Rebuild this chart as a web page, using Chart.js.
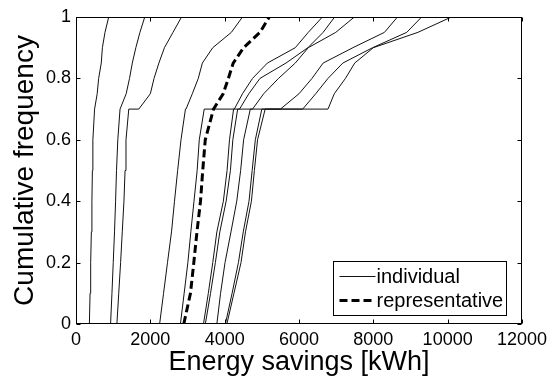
<!DOCTYPE html>
<html>
<head>
<meta charset="utf-8">
<script src="https://cdn.jsdelivr.net/npm/chart.js@4.4.1/dist/chart.umd.min.js"></script>
<style>
  body { margin: 0; background: #fff; }
  #wrap { width: 552px; height: 379px; }
</style>
</head>
<body>
<div id="wrap"><canvas id="cdfChart"></canvas></div>
<script>
// cumulative frequency levels shared by all curves
// (0.7 appears twice: where a curve reaches the 0.7 plateau and where it leaves it)
const levels = [0, 0.1, 0.2, 0.3, 0.4, 0.5, 0.6, 0.7, 0.7, 0.75, 0.8, 0.85, 0.9, 0.95, 1];

// energy savings [kWh] of each individual curve at those levels
const curve1 = [360, 378, 395, 413, 428, 441, 454, 500, 500, 570, 610, 680, 710, 780, 880];
const curve2 = [930, 967, 1002, 1036, 1065, 1090, 1125, 1185, 1190, 1350, 1440, 1515, 1610, 1720, 1850];
const curve3 = [1100, 1150, 1200, 1245, 1290, 1320, 1345, 1420, 1690, 2000, 2100, 2230, 2380, 2610, 2840];
const curve4 = [2250, 2356, 2462, 2570, 2650, 2735, 2825, 2945, 2960, 3130, 3290, 3400, 3680, 4180, 4480];
const curveA = [2810, 2910, 3010, 3090, 3175, 3260, 3317, 3450, 6780, 6950, 7250, 7500, 8000, 9200, 10100];
const curveB = [3430, 3560, 3680, 3790, 3965, 4065, 4130, 4240, 4260, 4480, 4750, 5150, 5900, 6250, 6630];
const curveB2 = [3480, 3620, 3750, 3870, 4040, 4155, 4220, 4350, 4400, 4650, 4950, 5650, 6240, 6650, 6960];
const curveC = [3790, 3890, 4010, 4170, 4325, 4430, 4510, 4690, 4750, 5050, 5450, 5900, 6250, 6990, 7490];
const curveD = [4020, 4200, 4370, 4500, 4655, 4740, 4825, 5000, 5500, 6000, 6350, 6650, 7450, 8300, 8650];
const curveD2 = [4060, 4250, 4440, 4560, 4720, 4800, 4885, 5090, 6100, 6450, 6780, 7180, 7980, 8900, 9300];
const individualCurves = [curve1, curve2, curve3, curve4, curveA, curveB, curveB2, curveC, curveD, curveD2];

// representative curve
const representative = [2900, 3080, 3170, 3255, 3350, 3410, 3478, 3700, 3700, 3960, 4100, 4230, 4510, 4950, 5200];

const xTicks = [0, 2000, 4000, 6000, 8000, 10000, 12000];
const yTicks = [0, 0.2, 0.4, 0.6, 0.8, 1];
const legendLabels = ['individual', 'representative'];

const FONT = 'Arial, "Liberation Sans", sans-serif';

function toPoints(xs) {
    return xs.map((x, i) => ({ x: x, y: levels[i] }));
}

const datasets = [{
    label: legendLabels[1],
    data: toPoints(representative),
    borderColor: '#000',
    borderWidth: 3,
    borderDash: [8, 4],
    pointRadius: 0,
    fill: false
}];
individualCurves.forEach(xs => {
    datasets.push({
        label: legendLabels[0],
        data: toPoints(xs),
        borderColor: '#111',
        borderWidth: 1,
        pointRadius: 0,
        fill: false
    });
});

// box, inward ticks on all four sides, and the legend inside the plot
const framePlugin = {
    id: 'frame',
    afterDatasetsDraw(chart) {
        const ctx = chart.ctx;
        const a = chart.chartArea;
        const xs = chart.scales.x, ys = chart.scales.y;
        const L = Math.round(a.left) + 0.5, R = Math.round(a.right) - 0.5;
        const T = Math.round(a.top) + 0.5, B = Math.round(a.bottom) - 0.5;
        ctx.save();
        ctx.strokeStyle = '#000';
        ctx.lineWidth = 1;
        ctx.setLineDash([]);
        ctx.strokeRect(L, T, R - L, B - T);
        ctx.beginPath();
        xTicks.forEach(v => {
            const p = Math.round(xs.getPixelForValue(v)) + 0.5;
            ctx.moveTo(p, B); ctx.lineTo(p, B - 4);
            ctx.moveTo(p, T); ctx.lineTo(p, T + 4);
        });
        yTicks.forEach(v => {
            const p = Math.round(ys.getPixelForValue(v)) + 0.5;
            ctx.moveTo(L, p); ctx.lineTo(L + 4, p);
            ctx.moveTo(R, p); ctx.lineTo(R - 4, p);
        });
        ctx.stroke();

        // legend
        const bw = 173, bh = 54;
        const bx = R - 15 - bw, by = B - 8 - bh;
        ctx.fillStyle = '#fff';
        ctx.fillRect(bx, by, bw, bh);
        ctx.strokeRect(bx, by, bw, bh);
        const samples = [datasets[1], datasets[0]];
        ctx.font = '20px ' + FONT;
        ctx.textBaseline = 'middle';
        ctx.textAlign = 'left';
        ctx.fillStyle = '#000';
        [legendLabels[0], legendLabels[1]].forEach((txt, i) => {
            const ly = by + 15 + i * 24;
            const ds = samples[i];
            ctx.beginPath();
            ctx.lineWidth = ds.borderWidth;
            ctx.strokeStyle = ds.borderColor;
            ctx.setLineDash(ds.borderDash || []);
            ctx.moveTo(bx + 6, ly);
            ctx.lineTo(bx + 42, ly);
            ctx.stroke();
            ctx.fillText(txt, bx + 43, ly + 1);
        });
        ctx.restore();
    }
};

new Chart(document.getElementById('cdfChart'), {
    type: 'line',
    data: { datasets: datasets },
    options: {
        responsive: true,
        maintainAspectRatio: false,
        animation: false,
        layout: { padding: { left: 0, right: 30, top: 17, bottom: 0 } },
        plugins: { legend: { display: false }, tooltip: { enabled: false } },
        scales: {
            x: {
                type: 'linear',
                min: 0,
                max: 12000,
                grid: { display: false, drawTicks: false },
                border: { display: false },
                afterBuildTicks: s => { s.ticks = xTicks.map(v => ({ value: v })); },
                afterFit: s => { s.height = 55; },
                ticks: {
                    color: '#000',
                    font: { family: FONT, size: 18 },
                    padding: 5,
                    maxRotation: 0,
                    autoSkip: false,
                    callback: v => String(v)
                },
                title: {
                    display: true,
                    text: 'Energy savings [kWh]',
                    color: '#000',
                    font: { family: FONT, size: 27 },
                    padding: { top: 0, bottom: 0 }
                }
            },
            y: {
                type: 'linear',
                min: 0,
                max: 1,
                grid: { display: false, drawTicks: false },
                border: { display: false },
                afterBuildTicks: s => { s.ticks = yTicks.map(v => ({ value: v })); },
                afterFit: s => { s.width = 76; },
                ticks: {
                    color: '#000',
                    font: { family: FONT, size: 18 },
                    padding: 5,
                    callback: v => String(v)
                },
                title: {
                    display: true,
                    text: 'Cumulative frequency',
                    color: '#000',
                    font: { family: FONT, size: 28 },
                    padding: { top: 8, bottom: 0 }
                }
            }
        }
    },
    plugins: [framePlugin]
});
</script>
</body>
</html>
